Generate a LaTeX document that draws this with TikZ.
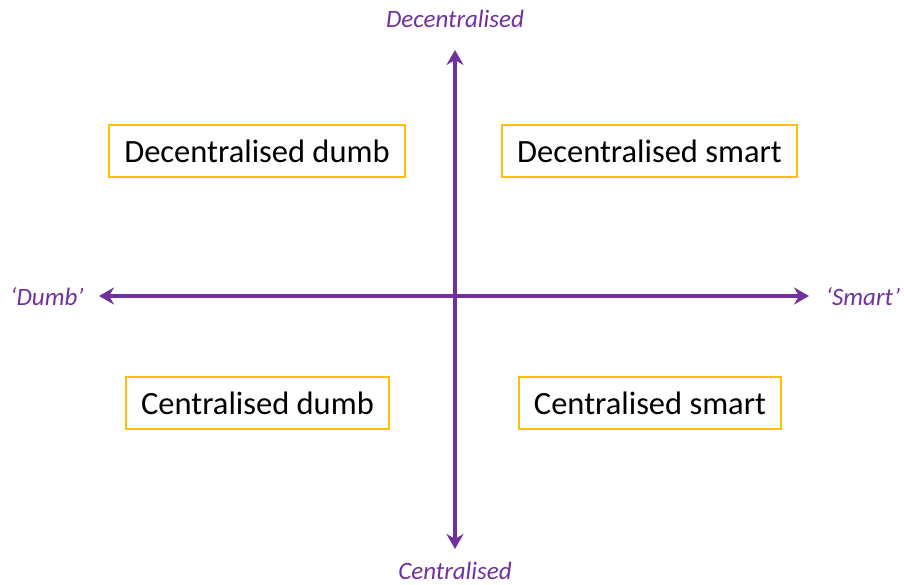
\documentclass[tikz,border=0pt]{standalone}
\usepackage{fontspec}
\setmainfont{Carlito}
\usetikzlibrary{arrows.meta}
\definecolor{axpurple}{HTML}{7030A0}
\definecolor{boxyellow}{HTML}{FFC000}
\tikzset{
  axis/.style={draw=axpurple, line width=3.2pt, {Stealth[length=15pt,width=17pt,inset=5pt]}-{Stealth[length=15pt,width=17pt,inset=5pt]}},
  quadbox/.style={draw=boxyellow, line width=1.3pt, minimum height=52pt, font=\fontsize{32.5}{36}\selectfont, inner xsep=0pt},
  axlabel/.style={text=axpurple, font=\fontsize{25}{28}\selectfont\itshape, inner sep=0pt}
}
\begin{document}
\begin{tikzpicture}[x=1pt,y=-1pt]
\useasboundingbox (0,0) rectangle (904,585);
\coordinate (top) at (455,50);
\coordinate (bot) at (455,549);
\coordinate (left) at (99,296);
\coordinate (right) at (809,296);
\draw[axis] (top) -- (bot);
\draw[axis] (left) -- (right);
\node[axlabel] (lt) at (455,19) {Decentralised};
\node[axlabel] (lb) at (455,571) {Centralised};
\node[axlabel] (ll) at (47,297) {‘Dumb’};
\node[axlabel] (lr) at (863,297) {‘Smart’};
\node[quadbox, minimum width=296pt] (dd) at (257,151) {Decentralised dumb};
\node[quadbox, minimum width=295pt] (ds) at (649.5,151) {Decentralised smart};
\node[quadbox, minimum width=263pt] (cd) at (257.5,403) {Centralised dumb};
\node[quadbox, minimum width=262pt] (cs) at (650,403) {Centralised smart};
\end{tikzpicture}
\end{document}
